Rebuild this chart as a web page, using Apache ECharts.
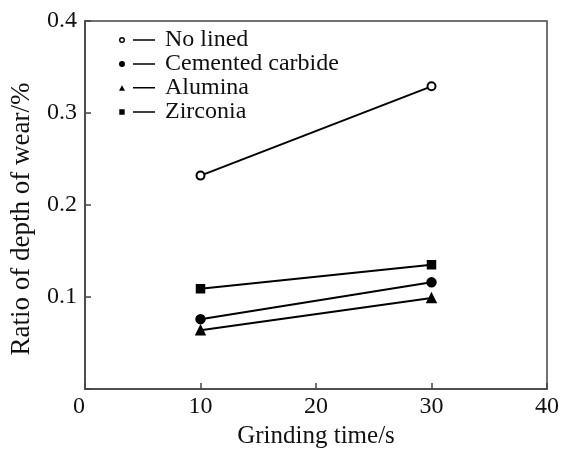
<!DOCTYPE html>
<html>
<head>
<meta charset="utf-8">
<script src="https://cdn.jsdelivr.net/npm/echarts@6/dist/echarts.min.js"></script>
<style>
  html, body { margin: 0; padding: 0; background: #fff; }
  #wearChart { width: 562px; height: 454px; }
</style>
</head>
<body>
<div id="wearChart"></div>
<script>
  // grinding time (s)
  var grindTime = [10, 30]
  // ratio of depth of wear (%)
  var noLined = [0.232, 0.329]
  var cementedCarbide = [0.076, 0.116]
  var alumina = [0.064, 0.099]
  var zirconia = [0.109, 0.135]

  var xTicks = [0, 10, 20, 30, 40]
  var yTicks = [0, 0.1, 0.2, 0.3, 0.4]

  var serifFont = '"Liberation Serif", "Times New Roman", serif'

  function pairs (ys) {
    var out = []
    for (var i = 0; i < grindTime.length; i++) {
      out.push([grindTime[i], ys[i]])
    }
    return out
  }

  // legend icons: marker + short line, 36x6
  var lineBit = ' M14,2.3L36,2.3L36,3.7L14,3.7Z'
  var iconOpen = 'path://M0,3A3,3,0,1,1,6,3A3,3,0,1,1,0,3Z M1.4,3A1.6,1.6,0,1,0,4.6,3A1.6,1.6,0,1,0,1.4,3Z' + lineBit
  var iconDot = 'path://M0,3A3,3,0,1,1,6,3A3,3,0,1,1,0,3Z' + lineBit
  var iconTri = 'path://M0,6L3,0.4L6,6Z' + lineBit
  var iconSq = 'path://M0.3,0.3L5.7,0.3L5.7,5.7L0.3,5.7Z M0,0L0.01,0L0.01,6L0,6Z' + lineBit

  function makeLine (name, ys, symbol, size) {
    return {
      name: name,
      type: 'line',
      data: pairs(ys),
      symbol: symbol,
      symbolSize: size,
      showSymbol: true,
      lineStyle: { color: '#000', width: 2 },
      itemStyle: { color: '#000', borderColor: '#000', borderWidth: 1.5 },
      emphasis: { disabled: true }
    }
  }

  var chart = echarts.init(document.getElementById('wearChart'))
  var option = {
    animation: false,
    backgroundColor: '#fff',
    grid: {
      left: 83,
      right: 10.5,
      top: 21,
      bottom: 56,
      show: true,
      borderColor: '#444',
      borderWidth: 1.5
    },
    legend: {
      orient: 'vertical',
      left: 119,
      top: 28,
      padding: 0,
      itemWidth: 36,
      itemHeight: 6,
      itemGap: 0,
      itemStyle: { color: '#000', borderWidth: 0 },
      textStyle: { fontFamily: serifFont, fontSize: 24, color: '#111', lineHeight: 23.5, padding: [0, 0, 0, 5] },
      data: [
        { name: 'No lined', icon: iconOpen },
        { name: 'Cemented carbide', icon: iconDot },
        { name: 'Alumina', icon: iconTri },
        { name: 'Zirconia', icon: iconSq }
      ]
    },
    xAxis: {
      type: 'value',
      min: xTicks[0],
      max: xTicks[xTicks.length - 1],
      interval: 10,
      name: 'Grinding time/s',
      nameLocation: 'middle',
      nameGap: 34,
      nameTextStyle: { fontFamily: serifFont, fontSize: 25, color: '#111', verticalAlign: 'top' },
      axisLine: { show: true, lineStyle: { color: '#444', width: 1.5 } },
      axisTick: { show: true, inside: true, length: 6, lineStyle: { color: '#444', width: 1.5 } },
      axisLabel: { fontFamily: serifFont, fontSize: 24, color: '#111', margin: 6, alignMinLabel: 'right' },
      splitLine: { show: false }
    },
    yAxis: {
      type: 'value',
      min: yTicks[0],
      max: yTicks[yTicks.length - 1],
      interval: 0.1,
      name: 'Ratio of depth of wear/%',
      nameLocation: 'middle',
      nameGap: 50,
      nameTextStyle: { fontFamily: serifFont, fontSize: 27, color: '#111', padding: [0, 28, 0, 0] },
      axisLine: { show: true, lineStyle: { color: '#444', width: 1.5 } },
      axisTick: { show: true, inside: true, length: 6, lineStyle: { color: '#444', width: 1.5 } },
      axisLabel: {
        fontFamily: serifFont,
        fontSize: 24,
        color: '#111',
        margin: 8,
        formatter: function (v) {
          return v === 0 ? '' : v.toFixed(1)
        }
      },
      splitLine: { show: false }
    },
    series: [
      makeLine('No lined', noLined, 'emptyCircle', 8),
      makeLine('Cemented carbide', cementedCarbide, 'circle', 9),
      makeLine('Alumina', alumina, 'triangle', 9),
      makeLine('Zirconia', zirconia, 'rect', 8)
    ]
  }
  chart.setOption(option)
</script>
</body>
</html>
